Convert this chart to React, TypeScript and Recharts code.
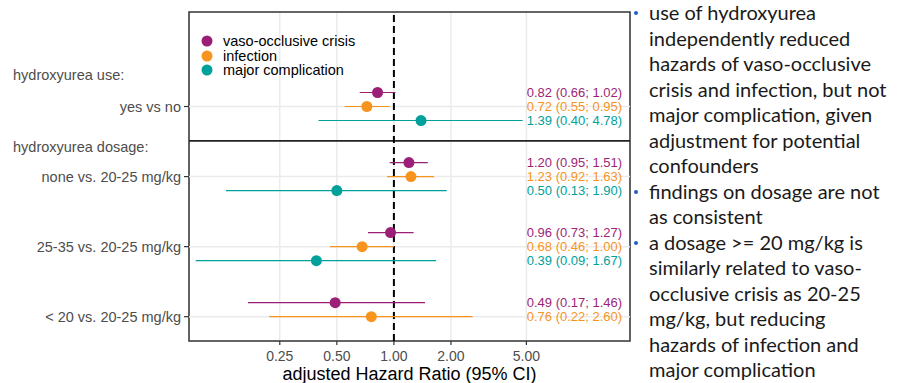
import React from 'react'
import {
  ScatterChart,
  Scatter,
  ErrorBar,
  XAxis,
  YAxis,
  CartesianGrid,
  ReferenceLine,
  ReferenceArea,
  Legend,
} from 'recharts'

// rows of the forest plot, top to bottom
const GROUPS = ['yes vs no', 'none vs. 20-25 mg/kg', '25-35 vs. 20-25 mg/kg', '< 20 vs. 20-25 mg/kg']
const HEADERS = ['hydroxyurea use:', 'hydroxyurea dosage:']
const SERIES = ['vaso-occlusive crisis', 'infection', 'major complication']
const COLORS = ['#9C1F77', '#F7941D', '#00A19B']

// hazard ratios and 95% CI, one entry per group
const VASO_HR = [0.82, 1.2, 0.96, 0.49]
const VASO_LO = [0.66, 0.95, 0.73, 0.17]
const VASO_HI = [1.02, 1.51, 1.27, 1.46]
const INF_HR = [0.72, 1.23, 0.68, 0.76]
const INF_LO = [0.55, 0.92, 0.46, 0.22]
const INF_HI = [0.95, 1.63, 1.0, 2.6]
const MAJ_HR = [1.39, 0.5, 0.39]
const MAJ_LO = [0.4, 0.13, 0.09]
const MAJ_HI = [4.78, 1.9, 1.67]

const X_TICKS = [0.25, 0.5, 1, 2, 5]

const NOTES = [
  [
    'use of hydroxyurea',
    'independently reduced',
    'hazards of vaso-occlusive',
    'crisis and infection, but not',
    'major complication, given',
    'adjustment for potential',
    'confounders',
  ],
  ['findings on dosage are not', 'as consistent'],
  [
    'a dosage >= 20 mg/kg is',
    'similarly related to vaso-',
    'occlusive crisis as 20-25',
    'mg/kg, but reducing',
    'hazards of infection and',
    'major complication',
  ],
]

const FONT = '"Liberation Sans", Arial, sans-serif'
const X_DOMAIN = [0.083, 17.6]
const Y_DOMAIN = [-0.349, 4.347]
const OFFSETS = [-0.2, 0, 0.2]
const HEADER_POS = [0.55, 1.57]
const GROUP_POS = GROUPS.map((_, i) => i + 1)
const DIVIDER = 1.49
const LABEL_X = 16

const SOURCES = [
  { hr: VASO_HR, lo: VASO_LO, hi: VASO_HI },
  { hr: INF_HR, lo: INF_LO, hi: INF_HI },
  { hr: MAJ_HR, lo: MAJ_LO, hi: MAJ_HI },
]

const pointRows = (k: number) =>
  SOURCES[k].hr.map((hr, i) => ({
    x: hr,
    y: GROUP_POS[i] + OFFSETS[k],
    err: [hr - SOURCES[k].lo[i], SOURCES[k].hi[i] - hr],
  }))

const labelRows = (k: number) =>
  SOURCES[k].hr.map((hr, i) => ({
    x: LABEL_X,
    y: GROUP_POS[i] + OFFSETS[k],
    text: `${hr.toFixed(2)} (${SOURCES[k].lo[i].toFixed(2)}; ${SOURCES[k].hi[i].toFixed(2)})`,
  }))

function YTick({ x, y, payload }: any) {
  const h = HEADER_POS.indexOf(payload.value)
  if (h >= 0) {
    return (
      <text x={13} y={y} dy="0.35em" fontSize={14.5} fill="#4D4D4D" fontFamily={FONT}>
        {HEADERS[h]}
      </text>
    )
  }
  const label = GROUPS[GROUP_POS.indexOf(payload.value)]
  return (
    <g>
      <line x1={x + 3} x2={x + 8} y1={y} y2={y} stroke="#333" strokeWidth={1.2} />
      <text x={x} y={y} dy="0.35em" textAnchor="end" fontSize={14.5} fill="#4D4D4D" fontFamily={FONT}>
        {label}
      </text>
    </g>
  )
}

function LegendBox({ payload }: any) {
  const items = (payload || [])
    .filter((e: any) => SERIES.includes(e.value))
    .sort((a: any, b: any) => SERIES.indexOf(a.value) - SERIES.indexOf(b.value))
  return (
    <div style={{ fontFamily: FONT, fontSize: 14.5, color: '#000' }}>
      {items.map((entry: any) => (
        <div key={entry.value} style={{ display: 'flex', alignItems: 'center', height: 14.5 }}>
          <svg width={14} height={14} style={{ marginRight: 9 }}>
            <circle cx={7} cy={7} r={5.5} fill={entry.color} />
          </svg>
          <span>{entry.value}</span>
        </div>
      ))}
    </div>
  )
}

export default function App() {
  return (
    <div style={{ position: 'relative', width: 897, height: 383, background: '#fff' }}>
      <style>{'body{margin:0}'}</style>
      <ScatterChart width={897} height={383} margin={{ top: 12, right: 267, bottom: 0, left: 0 }}>
        <CartesianGrid horizontal={false} stroke="#EBEBEB" strokeWidth={1.5} />
        {GROUP_POS.map((p) => (
          <ReferenceLine key={p} y={p} stroke="#EBEBEB" strokeWidth={1.5} />
        ))}
        <XAxis
          type="number"
          dataKey="x"
          scale="log"
          domain={X_DOMAIN}
          allowDataOverflow
          ticks={X_TICKS}
          interval={0}
          tickFormatter={(v) => Number(v).toFixed(2)}
          tick={{ fontSize: 14, fill: '#4D4D4D', fontFamily: FONT }}
          tickLine={{ stroke: '#333', strokeWidth: 1.2 }}
          tickSize={4}
          tickMargin={6}
          axisLine={false}
          height={42}
          label={{
            value: 'adjusted Hazard Ratio (95% CI)',
            position: 'insideBottom',
            offset: 3,
            fill: '#000',
            fontSize: 18,
            fontFamily: FONT,
          }}
        />
        <YAxis
          type="number"
          dataKey="y"
          domain={Y_DOMAIN}
          reversed
          allowDataOverflow
          ticks={[HEADER_POS[0], ...GROUP_POS.slice(0, 1), HEADER_POS[1], ...GROUP_POS.slice(1)]}
          interval={0}
          tick={<YTick />}
          tickLine={false}
          axisLine={false}
          tickSize={5}
          tickMargin={3}
          width={189}
        />
        <ReferenceLine y={DIVIDER} stroke="#222" strokeWidth={1.8} />
        <ReferenceLine x={1} stroke="#000" strokeWidth={2} strokeDasharray="7 4" />
        <Legend
          layout="vertical"
          align="center"
          verticalAlign="middle"
          wrapperStyle={{ left: 200, top: 34, width: 'auto', height: 'auto' }}
          content={<LegendBox />}
        />
        {SERIES.map((name, k) => (
          <Scatter
            key={name}
            name={name}
            data={pointRows(k)}
            fill={COLORS[k]}
            isAnimationActive={false}
            shape={(p: any) => <circle cx={p.cx} cy={p.cy} r={5.5} fill={COLORS[k]} />}
          >
            <ErrorBar dataKey="err" direction="x" width={0} stroke={COLORS[k]} strokeWidth={1.2} />
          </Scatter>
        ))}
        {SERIES.map((name, k) => (
          <Scatter
            key={name + '-label'}
            name={name + ' label'}
            legendType="none"
            data={labelRows(k)}
            isAnimationActive={false}
            shape={(p: any) => (
              <text
                x={p.cx}
                y={p.cy}
                dy="0.35em"
                textAnchor="end"
                fontSize={13}
                fill={COLORS[k]}
                fontFamily={FONT}
              >
                {p.payload.text}
              </text>
            )}
          />
        ))}
        <ReferenceArea
          x1={X_DOMAIN[0]}
          x2={X_DOMAIN[1]}
          y1={Y_DOMAIN[0]}
          y2={Y_DOMAIN[1]}
          fill="none"
          stroke="#333"
          strokeWidth={1.5}
          ifOverflow="visible"
        />
      </ScatterChart>
      <div
        style={{
          position: 'absolute',
          left: 649,
          top: 0,
          fontFamily: 'Lato, "Open Sans", sans-serif',
          fontSize: 20,
          color: '#1a1a1a',
          lineHeight: '25.5px',
          whiteSpace: 'nowrap',
        }}
      >
        {NOTES.map((block, b) => (
          <div key={b} style={{ position: 'relative' }}>
            <span
              style={{
                position: 'absolute',
                left: -15,
                top: 11,
                width: 4,
                height: 4,
                borderRadius: '50%',
                background: '#1F5FC4',
              }}
            />
            {block.map((line) => (
              <div key={line}>{line}</div>
            ))}
          </div>
        ))}
      </div>
    </div>
  )
}
